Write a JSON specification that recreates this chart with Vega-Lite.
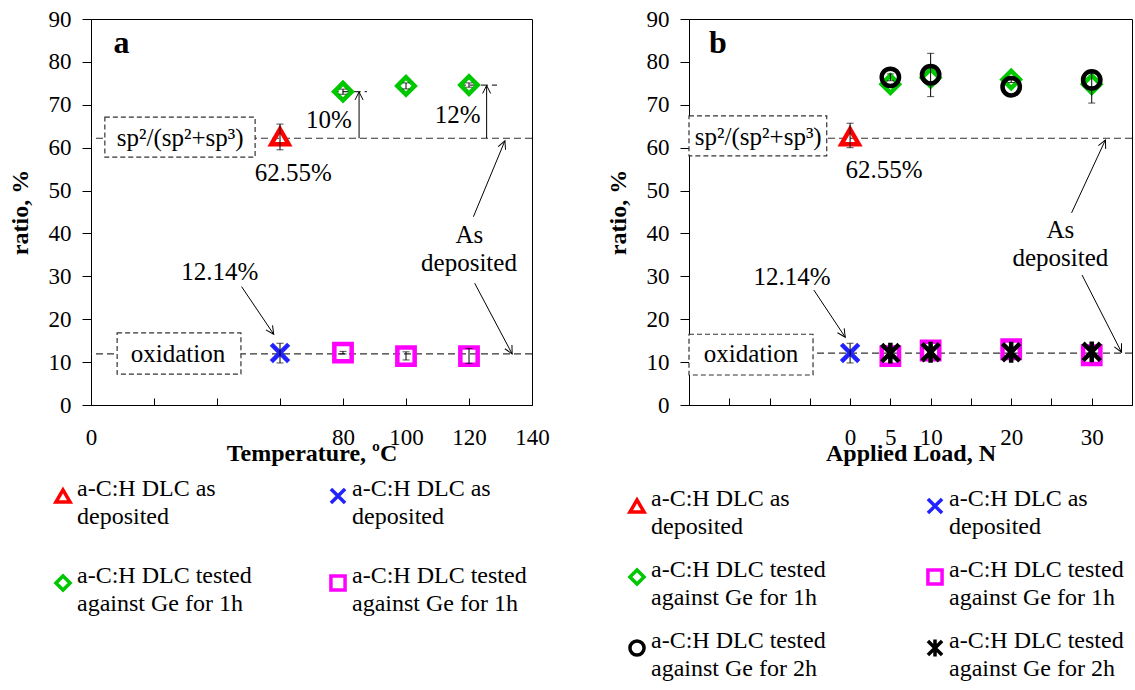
{
  "$schema": "https://vega.github.io/schema/vega-lite/v6.json",
  "background": "white",
  "padding": {"left": 7, "top": 7, "right": 0, "bottom": 0},
  "bounds": "flush",
  "spacing": 157,
  "config": {
    "font": "Liberation Serif",
    "view": {"stroke": "black", "strokeWidth": 1},
    "style": {"guide-label": {"lineHeight": 28}},
    "axis": {"grid": false, "domainColor": "black", "tickColor": "black", "labelColor": "black", "titleColor": "black", "labelFont": "Liberation Serif", "titleFont": "Liberation Serif", "labelFontSize": 23, "titleFontSize": 24, "titleFontWeight": "bold", "labelFlush": false, "labelOverlap": false},
    "axisY": {"tickSize": 9, "labelPadding": 11, "titlePadding": 16},
    "axisX": {"tickSize": -7, "labelPadding": 28, "titlePadding": -8},
    "legend": {"labelFont": "Liberation Serif", "labelFontSize": 24, "labelColor": "black", "labelLimit": 400, "labelOffset": 2, "symbolSize": 200, "symbolStrokeWidth": 3.5, "padding": 0, "labelBaseline": "alphabetic", "gridAlign": "all", "direction": "horizontal"}
  },
  "datasets": {
    "aRef": [{"y": 62.2}, {"y": 11.9}],
    "aSeg": [{"x": 76.4, "x2": 87.6, "y": 73.05}, {"x": 116.8, "x2": 128.9, "y": 74.6}],
    "aBox": [{"x": 4.4, "x2": 52.1, "y": 57.8, "y2": 67.1}, {"x": 8.3, "x2": 47.6, "y": 7.2, "y2": 16.8}],
    "aTxt": [
      {"x": 28.3, "y": 62.3, "t": "sp²/(sp²+sp³)"},
      {"x": 27.6, "y": 12.0, "t": "oxidation"},
      {"x": 75.5, "y": 66.4, "t": "10%"},
      {"x": 116.4, "y": 67.6, "t": "12%"},
      {"x": 64.2, "y": 54.0, "t": "62.55%"},
      {"x": 40.9, "y": 31.1, "t": "12.14%"},
      {"x": 120.1, "y": 39.6, "t": "As"},
      {"x": 120.0, "y": 33.0, "t": "deposited"}
    ],
    "aLbl": [{"x": 9.7, "y": 82.0, "t": "a"}],
    "aArr": [
      {"id": "v1", "x": 85.1, "y": 62.2, "x2": 85.1, "y2": 73.0},
      {"id": "v2", "x": 125.6, "y": 62.2, "x2": 125.6, "y2": 74.5},
      {"id": "d1", "x": 47.8, "y": 27.6, "x2": 58.0, "y2": 16.5},
      {"id": "d2", "x": 121.4, "y": 43.9, "x2": 131.4, "y2": 61.6},
      {"id": "d3", "x": 121.8, "y": 28.4, "x2": 133.7, "y2": 11.9}
    ],
    "aPts": [
      {"s": "1|a-C:H DLC as|deposited", "x": 60, "y": 62.55},
      {"s": "2|a-C:H DLC as|deposited", "x": 60, "y": 12.14},
      {"s": "3|a-C:H DLC tested|against Ge for 1h", "x": 80, "y": 73.05},
      {"s": "3|a-C:H DLC tested|against Ge for 1h", "x": 100, "y": 74.4},
      {"s": "3|a-C:H DLC tested|against Ge for 1h", "x": 120, "y": 74.6},
      {"s": "4|a-C:H DLC tested|against Ge for 1h", "x": 80, "y": 12.2},
      {"s": "4|a-C:H DLC tested|against Ge for 1h", "x": 100, "y": 11.4},
      {"s": "4|a-C:H DLC tested|against Ge for 1h", "x": 120, "y": 11.4}
    ],
    "aErr": [
      {"x": 60, "lo": 59.5, "hi": 65.5},
      {"x": 60, "lo": 9.8, "hi": 14.4},
      {"x": 80, "lo": 72.45, "hi": 73.65},
      {"x": 100, "lo": 73.7, "hi": 75.1},
      {"x": 120, "lo": 74.1, "hi": 75.1},
      {"x": 80, "lo": 11.9, "hi": 12.5},
      {"x": 100, "lo": 10.5, "hi": 12.4},
      {"x": 120, "lo": 9.7, "hi": 13.2}
    ],
    "bRef": [{"y": 62.2}, {"y": 12.1}],
    "bBox": [{"x": -20, "x2": -2.9, "y": 58.1, "y2": 67.4}, {"x": -20, "x2": -4.6, "y": 7.0, "y2": 16.5}],
    "bTxt": [
      {"x": -11.4, "y": 62.5, "t": "sp²/(sp²+sp³)"},
      {"x": -12.3, "y": 11.9, "t": "oxidation"},
      {"x": 4.2, "y": 54.8, "t": "62.55%"},
      {"x": -7.2, "y": 29.9, "t": "12.14%"},
      {"x": 26.1, "y": 40.8, "t": "As"},
      {"x": 26.1, "y": 34.2, "t": "deposited"}
    ],
    "bLbl": [{"x": -16.4, "y": 82.0, "t": "b"}],
    "bArr": [
      {"id": "d1", "x": -4.5, "y": 26.8, "x2": -0.6, "y2": 15.8},
      {"id": "d2", "x": 27.5, "y": 44.8, "x2": 31.7, "y2": 61.8},
      {"id": "d3", "x": 28.8, "y": 30.3, "x2": 33.7, "y2": 12.3}
    ],
    "bPts": [
      {"s": "1|a-C:H DLC as|deposited", "x": 0, "y": 62.55},
      {"s": "2|a-C:H DLC as|deposited", "x": 0, "y": 12.14},
      {"s": "3|a-C:H DLC tested|against Ge for 1h", "x": 5, "y": 74.8},
      {"s": "3|a-C:H DLC tested|against Ge for 1h", "x": 10, "y": 76.3},
      {"s": "3|a-C:H DLC tested|against Ge for 1h", "x": 20, "y": 75.9},
      {"s": "3|a-C:H DLC tested|against Ge for 1h", "x": 30, "y": 74.8},
      {"s": "4|a-C:H DLC tested|against Ge for 1h", "x": 5, "y": 11.4},
      {"s": "4|a-C:H DLC tested|against Ge for 1h", "x": 10, "y": 12.7},
      {"s": "4|a-C:H DLC tested|against Ge for 1h", "x": 20, "y": 13.0},
      {"s": "4|a-C:H DLC tested|against Ge for 1h", "x": 30, "y": 11.6},
      {"s": "5|a-C:H DLC tested|against Ge for 2h", "x": 5, "y": 76.4},
      {"s": "5|a-C:H DLC tested|against Ge for 2h", "x": 10, "y": 77.0},
      {"s": "5|a-C:H DLC tested|against Ge for 2h", "x": 20, "y": 74.2},
      {"s": "5|a-C:H DLC tested|against Ge for 2h", "x": 30, "y": 75.8},
      {"s": "6|a-C:H DLC tested|against Ge for 2h", "x": 5, "y": 12.1},
      {"s": "6|a-C:H DLC tested|against Ge for 2h", "x": 10, "y": 12.3},
      {"s": "6|a-C:H DLC tested|against Ge for 2h", "x": 20, "y": 12.3},
      {"s": "6|a-C:H DLC tested|against Ge for 2h", "x": 30, "y": 12.4}
    ],
    "bErr": [
      {"x": 0, "lo": 60.0, "hi": 65.7},
      {"x": 0, "lo": 9.8, "hi": 14.4},
      {"x": 5, "lo": 75.6, "hi": 77.2},
      {"x": 10, "lo": 71.9, "hi": 82.0},
      {"x": 20, "lo": 75.2, "hi": 76.2},
      {"x": 30, "lo": 70.4, "hi": 78.0},
      {"x": 5, "lo": 11.4, "hi": 12.8},
      {"x": 10, "lo": 11.6, "hi": 13.0},
      {"x": 20, "lo": 11.6, "hi": 13.0},
      {"x": 30, "lo": 11.6, "hi": 13.2}
    ]
  },
  "resolve": {"scale": {"color": "independent", "shape": "independent", "x": "independent", "y": "independent"}, "legend": {"color": "independent", "shape": "independent"}},
  "hconcat": [
    {
      "width": 441,
      "height": 386,
      "layer": [
        {"data": {"name": "aRef"}, "mark": {"type": "rule", "color": "#333333", "strokeWidth": 1.2, "strokeDash": [7, 4]}, "encoding": {"y": {"field": "y", "type": "quantitative", "title": "ratio, %"}}},
        {"data": {"name": "aSeg"}, "mark": {"type": "rule", "color": "#333333", "strokeWidth": 1.2, "strokeDash": [7, 4]}, "encoding": {"x": {"field": "x", "type": "quantitative"}, "x2": {"field": "x2"}, "y": {"field": "y", "type": "quantitative"}}},
        {"data": {"name": "aBox"}, "mark": {"type": "rect", "fill": "white", "stroke": "#333333", "strokeWidth": 1.2, "strokeDash": [5, 3]}, "encoding": {"x": {"field": "x", "type": "quantitative"}, "x2": {"field": "x2"}, "y": {"field": "y", "type": "quantitative"}, "y2": {"field": "y2"}}},
        {"data": {"name": "aArr"}, "mark": {"type": "rule", "color": "black", "strokeWidth": 1}, "encoding": {"x": {"field": "x", "type": "quantitative"}, "y": {"field": "y", "type": "quantitative"}, "x2": {"field": "x2"}, "y2": {"field": "y2"}}},
        {"data": {"name": "aArr"}, "transform": [{"filter": "datum.id == 'v1' || datum.id == 'v2'"}], "mark": {"type": "point", "shape": "M-0.5,1L0,0L0.5,1", "size": 256, "filled": false, "stroke": "black", "strokeWidth": 1, "opacity": 1, "angle": 0}, "encoding": {"x": {"field": "x2", "type": "quantitative"}, "y": {"field": "y2", "type": "quantitative"}}},
        {"data": {"name": "aArr"}, "transform": [{"filter": "datum.id == 'd1'"}], "mark": {"type": "point", "shape": "M-0.5,1L0,0L0.5,1", "size": 256, "filled": false, "stroke": "black", "strokeWidth": 1, "opacity": 1, "angle": 145.9}, "encoding": {"x": {"field": "x2", "type": "quantitative"}, "y": {"field": "y2", "type": "quantitative"}}},
        {"data": {"name": "aArr"}, "transform": [{"filter": "datum.id == 'd2'"}], "mark": {"type": "point", "shape": "M-0.5,1L0,0L0.5,1", "size": 256, "filled": false, "stroke": "black", "strokeWidth": 1, "opacity": 1, "angle": 22.5}, "encoding": {"x": {"field": "x2", "type": "quantitative"}, "y": {"field": "y2", "type": "quantitative"}}},
        {"data": {"name": "aArr"}, "transform": [{"filter": "datum.id == 'd3'"}], "mark": {"type": "point", "shape": "M-0.5,1L0,0L0.5,1", "size": 256, "filled": false, "stroke": "black", "strokeWidth": 1, "opacity": 1, "angle": 152.1}, "encoding": {"x": {"field": "x2", "type": "quantitative"}, "y": {"field": "y2", "type": "quantitative"}}},
        {"data": {"name": "aPts"}, "mark": {"type": "point", "filled": false, "strokeWidth": 4.5, "size": 300, "opacity": 1},
          "encoding": {
            "x": {"field": "x", "type": "quantitative", "title": "Temperature, ºC", "scale": {"domain": [0, 140], "nice": false}, "axis": {"values": [0, 20, 40, 60, 80, 100, 120, 140], "labelExpr": "datum.value == 0 || datum.value >= 80 ? datum.label : ''"}},
            "y": {"field": "y", "type": "quantitative", "title": "ratio, %", "scale": {"domain": [0, 90], "nice": false}, "axis": {"values": [0, 10, 20, 30, 40, 50, 60, 70, 80, 90]}},
            "color": {"field": "s", "type": "nominal", "scale": {"domain": ["1|a-C:H DLC as|deposited", "2|a-C:H DLC as|deposited", "3|a-C:H DLC tested|against Ge for 1h", "4|a-C:H DLC tested|against Ge for 1h"], "range": ["#FF0000", "#2222FF", "#00C800", "#FF00FF"]},
              "legend": {"title": null, "orient": "none", "direction": "horizontal", "legendX": -40, "legendY": 465, "columns": 2, "columnPadding": 71, "rowPadding": 35, "labelExpr": "slice(split(datum.label, '|'), 1)", "encode": {"labels": {"dy": {"value": 7}}}}},
            "shape": {"field": "s", "type": "nominal", "scale": {"domain": ["1|a-C:H DLC as|deposited", "2|a-C:H DLC as|deposited", "3|a-C:H DLC tested|against Ge for 1h", "4|a-C:H DLC tested|against Ge for 1h"], "range": ["triangle-up", "M-1,-1L1,1M-1,1L1,-1", "diamond", "square"]}}
          }
        },
        {"data": {"name": "aErr"}, "mark": {"type": "errorbar", "ticks": {"size": 7}, "color": "black"}, "encoding": {"x": {"field": "x", "type": "quantitative", "title": "Temperature, ºC"}, "y": {"field": "lo", "type": "quantitative", "title": "ratio, %"}, "y2": {"field": "hi"}}},
        {"data": {"name": "aTxt"}, "mark": {"type": "text", "font": "Liberation Serif", "fontSize": 25, "color": "black", "align": "center", "baseline": "middle"}, "encoding": {"x": {"field": "x", "type": "quantitative"}, "y": {"field": "y", "type": "quantitative"}, "text": {"field": "t"}}},
        {"data": {"name": "aLbl"}, "mark": {"type": "text", "font": "Liberation Serif", "fontSize": 32, "fontWeight": "bold", "color": "black", "align": "center", "baseline": "alphabetic"}, "encoding": {"x": {"field": "x", "type": "quantitative"}, "y": {"field": "y", "type": "quantitative"}, "text": {"field": "t"}}}
      ]
    },
    {
      "width": 443,
      "height": 386,
      "layer": [
        {"data": {"name": "bRef"}, "mark": {"type": "rule", "color": "#333333", "strokeWidth": 1.2, "strokeDash": [7, 4]}, "encoding": {"y": {"field": "y", "type": "quantitative", "title": "ratio, %"}}},
        {"data": {"name": "bBox"}, "mark": {"type": "rect", "fill": "white", "stroke": "#333333", "strokeWidth": 1.2, "strokeDash": [5, 3]}, "encoding": {"x": {"field": "x", "type": "quantitative"}, "x2": {"field": "x2"}, "y": {"field": "y", "type": "quantitative"}, "y2": {"field": "y2"}}},
        {"data": {"name": "bArr"}, "mark": {"type": "rule", "color": "black", "strokeWidth": 1}, "encoding": {"x": {"field": "x", "type": "quantitative"}, "y": {"field": "y", "type": "quantitative"}, "x2": {"field": "x2"}, "y2": {"field": "y2"}}},
        {"data": {"name": "bArr"}, "transform": [{"filter": "datum.id == 'd1'"}], "mark": {"type": "point", "shape": "M-0.5,1L0,0L0.5,1", "size": 256, "filled": false, "stroke": "black", "strokeWidth": 1, "opacity": 1, "angle": 146.4}, "encoding": {"x": {"field": "x2", "type": "quantitative"}, "y": {"field": "y2", "type": "quantitative"}}},
        {"data": {"name": "bArr"}, "transform": [{"filter": "datum.id == 'd2'"}], "mark": {"type": "point", "shape": "M-0.5,1L0,0L0.5,1", "size": 256, "filled": false, "stroke": "black", "strokeWidth": 1, "opacity": 1, "angle": 24.9}, "encoding": {"x": {"field": "x2", "type": "quantitative"}, "y": {"field": "y2", "type": "quantitative"}}},
        {"data": {"name": "bArr"}, "transform": [{"filter": "datum.id == 'd3'"}], "mark": {"type": "point", "shape": "M-0.5,1L0,0L0.5,1", "size": 256, "filled": false, "stroke": "black", "strokeWidth": 1, "opacity": 1, "angle": 153.0}, "encoding": {"x": {"field": "x2", "type": "quantitative"}, "y": {"field": "y2", "type": "quantitative"}}},
        {"data": {"name": "bPts"}, "mark": {"type": "point", "filled": false, "strokeWidth": 4.5, "size": 300, "opacity": 1},
          "encoding": {
            "x": {"field": "x", "type": "quantitative", "title": "Applied Load, N", "scale": {"domain": [-20, 35], "nice": false, "zero": false}, "axis": {"values": [-20, -15, -10, -5, 0, 5, 10, 15, 20, 25, 30, 35], "labelExpr": "indexof([0, 5, 10, 20, 30], datum.value) >= 0 ? datum.label : ''"}},
            "y": {"field": "y", "type": "quantitative", "title": "ratio, %", "scale": {"domain": [0, 90], "nice": false}, "axis": {"values": [0, 10, 20, 30, 40, 50, 60, 70, 80, 90]}},
            "color": {"field": "s", "type": "nominal", "scale": {"domain": ["1|a-C:H DLC as|deposited", "2|a-C:H DLC as|deposited", "3|a-C:H DLC tested|against Ge for 1h", "4|a-C:H DLC tested|against Ge for 1h", "5|a-C:H DLC tested|against Ge for 2h", "6|a-C:H DLC tested|against Ge for 2h"], "range": ["#FF0000", "#2222FF", "#00C800", "#FF00FF", "#000000", "#000000"]},
              "legend": {"title": null, "orient": "none", "direction": "horizontal", "legendX": -64, "legendY": 475, "columns": 2, "columnPadding": 94, "rowPadding": 19, "labelExpr": "slice(split(datum.label, '|'), 1)", "encode": {"labels": {"dy": {"value": 7}}}}},
            "shape": {"field": "s", "type": "nominal", "scale": {"domain": ["1|a-C:H DLC as|deposited", "2|a-C:H DLC as|deposited", "3|a-C:H DLC tested|against Ge for 1h", "4|a-C:H DLC tested|against Ge for 1h", "5|a-C:H DLC tested|against Ge for 2h", "6|a-C:H DLC tested|against Ge for 2h"], "range": ["triangle-up", "M-1,-1L1,1M-1,1L1,-1", "diamond", "square", "circle", "M-1,-1L1,1M-1,1L1,-1M0,-1.2L0,1.2"]}}
          }
        },
        {"data": {"name": "bErr"}, "mark": {"type": "errorbar", "ticks": {"size": 7}, "color": "black"}, "encoding": {"x": {"field": "x", "type": "quantitative", "title": "Applied Load, N"}, "y": {"field": "lo", "type": "quantitative", "title": "ratio, %"}, "y2": {"field": "hi"}}},
        {"data": {"name": "bTxt"}, "mark": {"type": "text", "font": "Liberation Serif", "fontSize": 25, "color": "black", "align": "center", "baseline": "middle"}, "encoding": {"x": {"field": "x", "type": "quantitative"}, "y": {"field": "y", "type": "quantitative"}, "text": {"field": "t"}}},
        {"data": {"name": "bLbl"}, "mark": {"type": "text", "font": "Liberation Serif", "fontSize": 32, "fontWeight": "bold", "color": "black", "align": "center", "baseline": "alphabetic"}, "encoding": {"x": {"field": "x", "type": "quantitative"}, "y": {"field": "y", "type": "quantitative"}, "text": {"field": "t"}}}
      ]
    }
  ]
}
